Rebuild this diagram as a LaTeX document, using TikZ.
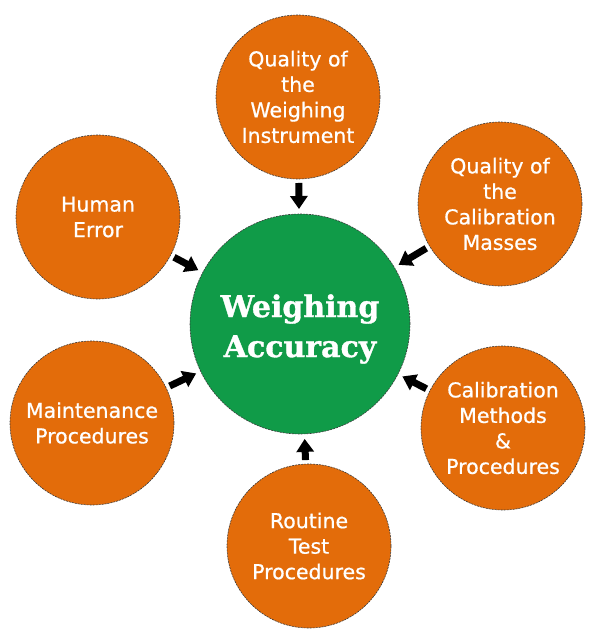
\documentclass[tikz,border=0pt]{standalone}
\usepackage{fontspec}
\usetikzlibrary{arrows.meta}
\newfontfamily\bubblefont[FakeBold=0.7]{DejaVu Sans}
\newfontfamily\titlefont[BoldFeatures={FakeBold=1.2}]{DejaVu Serif}
\definecolor{orangefill}{HTML}{E36C0A}
\definecolor{greenfill}{HTML}{109B48}
\definecolor{rimgray}{HTML}{3A3A3A}
\tikzset{
  bubble/.style={circle, fill=orangefill, draw=rimgray, line width=0.6pt,
    dash pattern=on 2pt off 1pt, minimum size=164pt, inner sep=0pt, outer sep=0pt,
    text=white, align=center, font=\bubblefont\fontsize{20.5}{25.5}\selectfont},
  hub/.style={circle, fill=greenfill, draw=rimgray, line width=0.6pt,
    dash pattern=on 2pt off 1pt, minimum size=220pt, inner sep=0pt, outer sep=0pt,
    text=white, align=center, font=\titlefont\bfseries\fontsize{30}{40}\selectfont},
  feed/.style={line width=7pt, black, -{Triangle[width=17pt,length=13pt]},
    shorten <=4pt, shorten >=5pt}
}
\begin{document}
\begin{tikzpicture}[x=1pt,y=1pt]
\useasboundingbox (0,0) rectangle (600,-636);
\node[hub] (acc) at (300,-324) {};
\node[text=white, align=center, font=\titlefont\bfseries\fontsize{30}{40}\selectfont] (acctext) at (300,-329) {Weighing\\Accuracy};
\node[bubble] (top) at (298,-97) {Quality of\\the\\Weighing\\Instrument};
\node[bubble] (tr) at (500,-204) {Quality of\\the\\Calibration\\Masses};
\node[bubble] (br) at (503,-428) {Calibration\\Methods\\\&\\Procedures};
\node[bubble] (bot) at (309,-546) {Routine\\Test\\Procedures};
\node[bubble] (bl) at (92,-423) {Maintenance\\Procedures};
\node[bubble] (tl) at (98,-217) {Human\\Error};
\foreach \n in {top,tr,br,bot,bl,tl}
  \draw[feed] (\n) -- (acc);
\end{tikzpicture}
\end{document}
